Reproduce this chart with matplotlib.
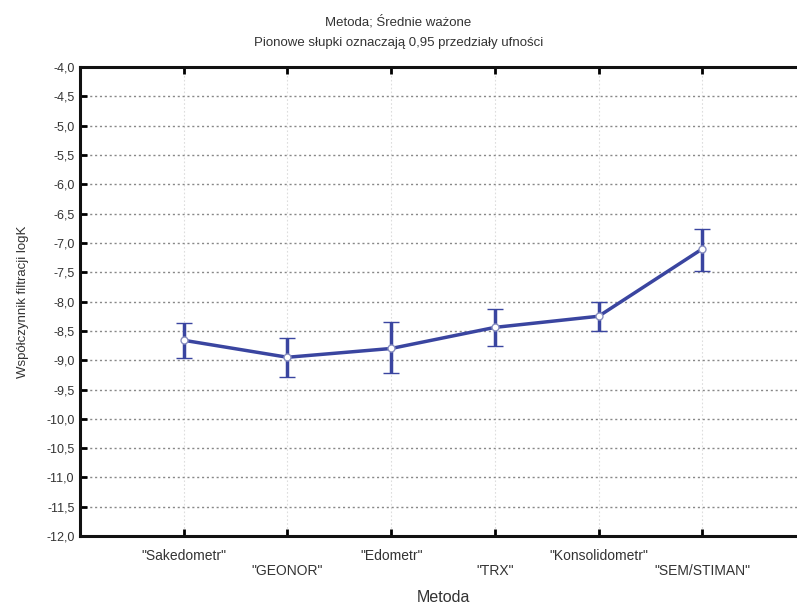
import matplotlib.pyplot as plt
import numpy as np
from matplotlib.ticker import FuncFormatter

# Data
methods = ['"Sakedometr"', '"GEONOR"', '"Edometr"', '"TRX"', '"Konsolidometr"', '"SEM/STIMAN"']
means = [-8.66, -8.95, -8.80, -8.44, -8.25, -7.10]
ci_low = [-8.97, -9.29, -9.22, -8.76, -8.51, -7.48]
ci_high = [-8.36, -8.62, -8.35, -8.13, -8.00, -6.76]

plt.rcParams['font.family'] = ['Liberation Sans Narrow', 'Liberation Sans', 'DejaVu Sans']
text_color = '#333333'

fig = plt.figure(figsize=(7.97, 6.05), dpi=100)
ax = fig.add_axes([0.1004, 0.114, 0.911, 0.775])

x = np.arange(len(methods))
means_arr = np.array(means)
yerr = [means_arr - np.array(ci_low), np.array(ci_high) - means_arr]

line_color = '#3a45a0'
ax.errorbar(x, means, yerr=yerr, color=line_color, linewidth=2.5,
            elinewidth=2.5, capsize=6, capthick=2.5,
            marker='o', markersize=5, markerfacecolor='white',
            markeredgecolor='#8a90c0', markeredgewidth=1.0, zorder=3)

ax.set_xlim(-1, 6)
ax.set_ylim(-12, -4)
ax.set_yticks(np.arange(-12, -3.99, 0.5))
ax.yaxis.set_major_formatter(FuncFormatter(lambda v, p: f'{v:.1f}'.replace('.', ',')))

ax.set_xticks(x)
labels = [m if i % 2 == 0 else '\n' + m for i, m in enumerate(methods)]
ax.set_xticklabels(labels, fontsize=10, color=text_color, linespacing=1.1)

ax.tick_params(axis='y', direction='in', length=5, width=2, labelsize=9,
               labelcolor=text_color, pad=4)
ax.tick_params(axis='x', direction='in', length=5, width=2, top=True, pad=9)

ax.yaxis.grid(True, linestyle=(0, (1.5, 2)), color='#888888', linewidth=1.0)
ax.xaxis.grid(True, linestyle=(0, (1.5, 2)), color='#dddddd', linewidth=0.8)
ax.set_axisbelow(True)

for side in ['left', 'top', 'bottom']:
    ax.spines[side].set_linewidth(2.2)
    ax.spines[side].set_color('#111111')
ax.spines['right'].set_visible(False)

ax.set_xlabel('Metoda', fontsize=11.5, color=text_color, labelpad=9)
ax.set_ylabel('Współczynnik filtracji logK', fontsize=9.5, color=text_color, labelpad=12)

fig.text(0.5, 1 - 22 / 605, 'Metoda; Średnie ważone', ha='center', va='center',
         fontsize=9.5, color=text_color)
fig.text(0.5, 1 - 43 / 605, 'Pionowe słupki oznaczają 0,95 przedziały ufności',
         ha='center', va='center', fontsize=9.5, color=text_color)

fig.savefig('out.png', dpi=100)
plt.close(fig)
